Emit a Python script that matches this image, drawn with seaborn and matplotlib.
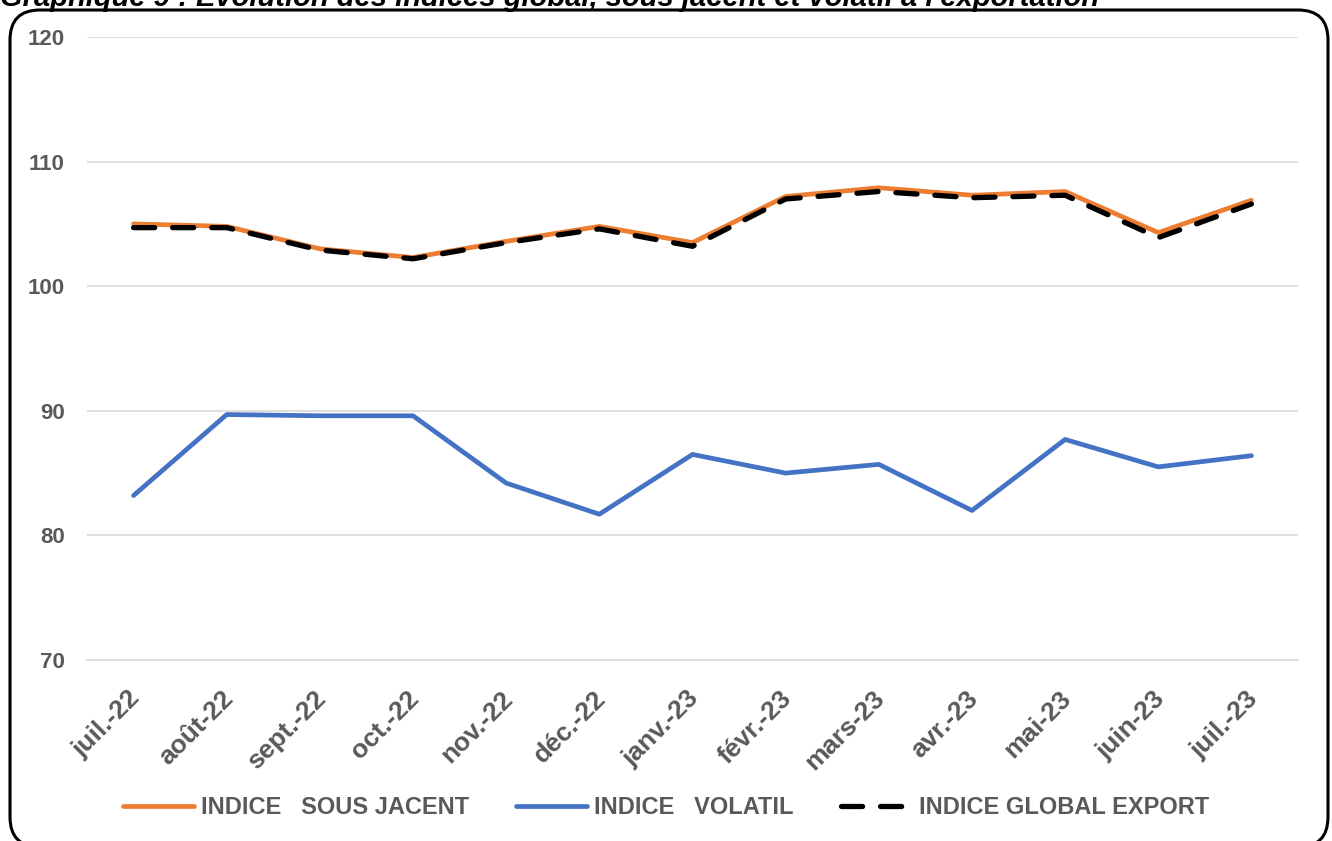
import matplotlib
matplotlib.use("Agg")
import matplotlib.pyplot as plt
from matplotlib.patches import FancyBboxPatch
from matplotlib.lines import Line2D
import matplotlib.transforms as mtransforms
import seaborn as sns
import pandas as pd
import numpy as np

months = ["juil.-22", "août-22", "sept.-22", "oct.-22", "nov.-22", "déc.-22",
          "janv.-23", "févr.-23", "mars-23", "avr.-23", "mai-23", "juin-23", "juil.-23"]
sous_jacent = [105.0, 104.8, 103.0, 102.3, 103.6, 104.8, 103.5, 107.2, 107.9, 107.3, 107.6, 104.3, 106.9]
volatil = [83.2, 89.7, 89.6, 89.6, 84.2, 81.7, 86.5, 85.0, 85.7, 82.0, 87.7, 85.5, 86.4]
global_export = [104.7, 104.7, 102.9, 102.2, 103.5, 104.6, 103.2, 107.0, 107.6, 107.1, 107.3, 103.9, 106.6]
y_ticks = [70, 80, 90, 100, 110, 120]

title = "Graphique 9 : Evolution des indices global, sous jacent et volatil à l'exportation"
names = ["INDICE   SOUS JACENT", "INDICE   VOLATIL", "INDICE GLOBAL EXPORT"]

sns.set_theme(style="white")
plt.rcParams["font.family"] = ["Liberation Sans", "DejaVu Sans"]

df = pd.DataFrame({"pos": np.arange(len(months)), "sj": sous_jacent,
                   "vol": volatil, "glob": global_export})

fig = plt.figure(figsize=(13.32, 8.41), dpi=100)
ax = fig.add_axes([87/1332, 1-660/841, (1298-87)/1332, (660-37)/841])

grey = "#595959"
sns.lineplot(data=df, x="pos", y="sj", ax=ax, color="#ED7D31", lw=3.4,
             solid_capstyle="round", solid_joinstyle="round")
sns.lineplot(data=df, x="pos", y="vol", ax=ax, color="#4472C4", lw=3.4,
             solid_capstyle="round", solid_joinstyle="round")
sns.lineplot(data=df, x="pos", y="glob", ax=ax, color="black", lw=3.8,
             linestyle=(0, (4.0, 3.4)), dash_capstyle="round")

ax.set_xlim(-0.5, len(months) - 0.5)
ax.set_ylim(70, 120)
ax.set_yticks(y_ticks)
ax.set_yticklabels([str(v) for v in y_ticks], fontsize=16, fontweight="bold", color=grey)
ax.set_xticks(np.arange(len(months)))
ax.set_xticks(np.arange(-0.5, len(months)), minor=True)
ax.tick_params(axis="x", which="major", length=0, pad=19)
ax.tick_params(axis="x", which="minor", length=7, width=1.2, color="#d9d9d9", direction="out")
ax.tick_params(axis="y", length=0, pad=16)
ax.set_xticklabels(months, rotation=45, ha="right", rotation_mode="anchor",
                   fontsize=19, fontweight="bold", color=grey)
offset = mtransforms.ScaledTranslation(-6/100, 0, fig.dpi_scale_trans)
for lbl in ax.get_xticklabels():
    lbl.set_transform(lbl.get_transform() + offset)
ax.grid(axis="y", color="#d9d9d9", lw=1.2)
ax.set_xlabel("")
ax.set_ylabel("")
for s in ["top", "right", "left"]:
    ax.spines[s].set_visible(False)
ax.spines["bottom"].set_color("#d9d9d9")
ax.spines["bottom"].set_linewidth(1.2)

handles = [
    Line2D([], [], color="#ED7D31", lw=3.4, solid_capstyle="round"),
    Line2D([], [], color="#4472C4", lw=3.4, solid_capstyle="round"),
    Line2D([], [], color="black", lw=3.8, linestyle=(0, (4.0, 3.4)), dash_capstyle="round"),
]
leg = fig.legend(handles, names, loc="center", bbox_to_anchor=(0.5, 1 - 808/841),
                 ncol=3, frameon=False, handlelength=3.0, handletextpad=0.3,
                 columnspacing=2.0, prop={"weight": "bold", "size": 17})
for t in leg.get_texts():
    t.set_color(grey)

box = FancyBboxPatch((0.10, -0.06), 13.18, 8.37,
                     boxstyle="round,pad=0,rounding_size=0.3",
                     transform=fig.dpi_scale_trans, fill=False,
                     edgecolor="black", lw=2.2)
fig.add_artist(box)

fig.text(0.0, 1 - 6/841, title, ha="left", va="baseline", fontsize=21,
         fontweight="bold", fontstyle="italic", color="black")

fig.savefig("out.png", dpi=100)
